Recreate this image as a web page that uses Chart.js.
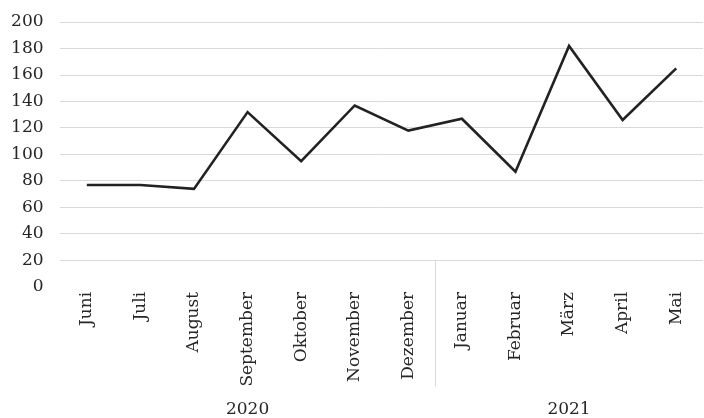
<!DOCTYPE html>
<html>
<head>
<meta charset="utf-8">
<script src="https://cdn.jsdelivr.net/npm/chart.js@4/dist/chart.umd.min.js"></script>
<style>
  html, body { margin: 0; padding: 0; background: #fff; }
  #wrap { width: 704px; height: 418px; }
</style>
</head>
<body>
<div id="wrap"><canvas id="c" width="704" height="418"></canvas></div>
<script>
const months = ['Juni', 'Juli', 'August', 'September', 'Oktober', 'November', 'Dezember',
                'Januar', 'Februar', 'März', 'April', 'Mai'];
const monthYears = ['2020', '2020', '2020', '2020', '2020', '2020', '2020',
                    '2021', '2021', '2021', '2021', '2021'];
const values = [77, 77, 74, 132, 95, 137, 118, 127, 87, 182, 126, 165];
const yTicks = [0, 20, 40, 60, 80, 100, 120, 140, 160, 180, 200];

// middle index of each year group, and boundaries between groups
const yearCenters = {};
const boundaries = [];
(function () {
  let start = 0;
  for (let i = 1; i <= monthYears.length; i++) {
    if (i === monthYears.length || monthYears[i] !== monthYears[start]) {
      yearCenters[Math.floor((start + i - 1) / 2)] = monthYears[start];
      if (i < monthYears.length) boundaries.push(i - 0.5);
      start = i;
    }
  }
})();

const FONT = "'DejaVu Serif', serif";

const separatorPlugin = {
  id: 'separator',
  afterDraw(chart) {
    const xs = chart.scales.x, ys = chart.scales.y;
    const ctx = chart.ctx;
    ctx.save();
    ctx.strokeStyle = '#d9d9d9';
    ctx.lineWidth = 1;
    boundaries.forEach(b => {
      const px = Math.round(xs.getPixelForValue(b)) + 0.5;
      ctx.beginPath();
      ctx.moveTo(px, ys.getPixelForValue(yTicks[1]));
      ctx.lineTo(px, xs.bottom - xs.options.ticks.padding);
      ctx.stroke();
    });
    ctx.restore();
  }
};

new Chart(document.getElementById('c'), {
  type: 'line',
  data: {
    labels: months,
    datasets: [{
      data: values,
      borderColor: '#222222',
      borderWidth: 2.6,
      pointRadius: 0,
      tension: 0,
      fill: false
    }]
  },
  plugins: [separatorPlugin],
  options: {
    responsive: false,
    animation: false,
    layout: { padding: { top: 22, right: 1, bottom: -2, left: -5.4 } },
    plugins: { legend: { display: false }, tooltip: { enabled: false } },
    scales: {
      y: {
        min: yTicks[0],
        max: yTicks[yTicks.length - 1],
        afterBuildTicks(scale) { scale.ticks = yTicks.map(v => ({ value: v })); },
        ticks: { color: '#262626', font: { family: FONT, size: 17, lineHeight: 0.65 }, padding: 16.5 },
        grid: {
          color: ctx => (ctx.tick && ctx.tick.value === 0) ? 'rgba(0,0,0,0)' : '#d9d9d9',
          drawTicks: false,
          lineWidth: 1
        },
        border: { display: false }
      },
      x: {
        offset: true,
        ticks: {
          color: '#262626',
          font: { family: FONT, size: 17 },
          minRotation: 90, maxRotation: 90,
          autoSkip: false,
          padding: 5
        },
        grid: { display: false, drawTicks: false },
        border: { display: false }
      },
      x2: {
        type: 'category',
        labels: months,
        position: 'bottom',
        offset: true,
        ticks: {
          color: '#262626',
          font: { family: FONT, size: 17 },
          maxRotation: 0, minRotation: 0,
          autoSkip: false,
          padding: 0,
          callback: (v, i) => yearCenters[i] || ''
        },
        grid: { display: false, drawTicks: true, tickLength: 8 },
        border: { display: false }
      }
    }
  }
});
</script>
</body>
</html>
